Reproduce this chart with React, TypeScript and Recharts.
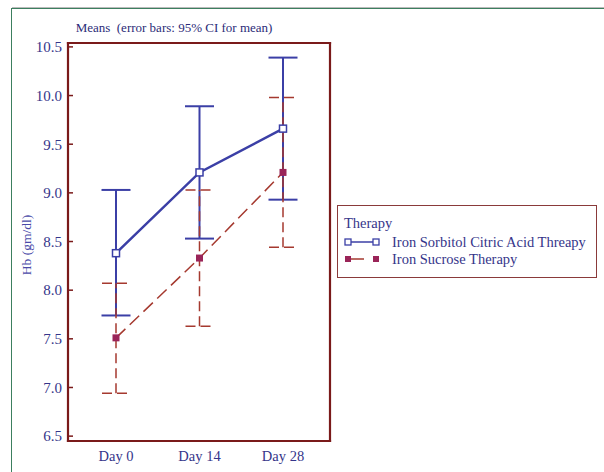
import React from 'react';
import { LineChart, Line, XAxis, YAxis, ErrorBar } from 'recharts';

const categories = ['Day 0', 'Day 14', 'Day 28'];
const sorbitolMean = [8.38, 9.21, 9.66];
const sorbitolLow = [7.74, 8.53, 8.93];
const sorbitolHigh = [9.03, 9.89, 10.39];
const sucroseMean = [7.51, 8.33, 9.21];
const sucroseLow = [6.94, 7.63, 8.44];
const sucroseHigh = [8.07, 9.03, 9.98];
const yTicks = [6.5, 7.0, 7.5, 8.0, 8.5, 9.0, 9.5, 10.0, 10.5];

const data = categories.map((c, i) => ({
  day: c,
  sorbitol: sorbitolMean[i],
  sorbitolErr: [sorbitolMean[i] - sorbitolLow[i], sorbitolHigh[i] - sorbitolMean[i]],
  sucrose: sucroseMean[i],
  sucroseErr: [sucroseMean[i] - sucroseLow[i], sucroseHigh[i] - sucroseMean[i]],
}));

const BLUE = '#3b3fa6';
const RED_BAR = '#a5392f';
const RED_MARK = '#9a2458';
const FRAME = '#7a1a1a';
const TEXT = '#35358a';
const FONT = '"Liberation Serif", "Times New Roman", serif';
const Y_DOMAIN: [number, number] = [6.45, 10.54];

const OpenSquare = (props: any) => {
  const { cx, cy } = props;
  if (cx == null || cy == null) return null;
  return <rect x={cx - 3.5} y={cy - 3.5} width={7} height={7} fill="#fff" stroke={BLUE} strokeWidth={1.5} />;
};
const FilledSquare = (props: any) => {
  const { cx, cy } = props;
  if (cx == null || cy == null) return null;
  return <rect x={cx - 3.5} y={cy - 3.5} width={7} height={7} fill={RED_MARK} stroke="none" />;
};

const frameLine = { stroke: FRAME, strokeWidth: 2.2, strokeLinecap: 'square' as const };

export default function App() {
  return (
    <div style={{ position: 'fixed', left: 0, top: 0, width: 604, height: 472, background: '#fff', fontFamily: FONT, overflow: 'hidden' }}>
      <div style={{ position: 'absolute', left: 12, top: 7, width: 700, height: 600, borderTop: '1px solid #bbb' }} />
      <div style={{ position: 'absolute', left: 11, top: 8, width: 700, height: 600, border: '1.5px solid #3c7f5f' }} />
      <div style={{ position: 'absolute', left: 0, top: 0 }}>
        <LineChart width={604} height={472} data={data} margin={{ top: 42, right: 273, bottom: 0, left: 0 }}>
          <XAxis
            dataKey="day"
            padding={{ left: 48, right: 47 }}
            axisLine={frameLine}
            tickLine={false}
            tickSize={0}
            tickMargin={10}
            height={31}
            tick={{ fill: TEXT, fontSize: 14.5, fontFamily: FONT }}
          />
          <XAxis
            xAxisId="top"
            orientation="top"
            dataKey="day"
            padding={{ left: 48, right: 47 }}
            height={1}
            axisLine={frameLine}
            tick={false}
            tickLine={false}
          />
          <YAxis
            domain={Y_DOMAIN}
            ticks={yTicks}
            tickFormatter={(v: number) => v.toFixed(1)}
            width={68}
            axisLine={frameLine}
            tickSize={-5}
            tickMargin={11}
            tickLine={{ stroke: FRAME, strokeWidth: 1.5 }}
            tick={{ fill: TEXT, fontSize: 15, fontFamily: FONT }}
            allowDataOverflow
          />
          <YAxis
            yAxisId="right"
            orientation="right"
            domain={Y_DOMAIN}
            allowDataOverflow
            width={1}
            axisLine={frameLine}
            tick={false}
            tickLine={false}
          />
          <Line
            xAxisId="top"
            yAxisId="right"
            dataKey="sorbitol"
            stroke="none"
            dot={false}
            activeDot={false}
            legendType="none"
            isAnimationActive={false}
          />
          <Line
            dataKey="sorbitol"
            stroke={BLUE}
            strokeWidth={2.5}
            dot={<OpenSquare />}
            isAnimationActive={false}
          >
            <ErrorBar dataKey="sorbitolErr" width={14.5} stroke={BLUE} strokeWidth={2} direction="y" />
          </Line>
          <Line
            dataKey="sucrose"
            stroke={RED_BAR}
            strokeWidth={1.5}
            strokeDasharray="13 6"
            dot={<FilledSquare />}
            isAnimationActive={false}
          >
            <ErrorBar dataKey="sucroseErr" width={14} stroke={RED_BAR} strokeWidth={1.5} strokeDasharray="10 5" direction="y" />
          </Line>
        </LineChart>
      </div>
      <div style={{ position: 'absolute', left: 62, top: 20, width: 224, textAlign: 'center', fontSize: 13, color: '#2b2b78', whiteSpace: 'nowrap', lineHeight: '16px' }}>
        Means&nbsp; (error bars: 95% CI for mean)
      </div>
      <div style={{ position: 'absolute', left: 27, top: 245, transform: 'translate(-50%, -50%) rotate(-90deg)', fontSize: 13.5, color: '#4a4aa8', whiteSpace: 'nowrap' }}>
        Hb (gm/dl)
      </div>
      <div style={{ position: 'absolute', left: 337, top: 205, width: 258, height: 71, border: '1.5px solid #8a3a3a', fontSize: 14.5, color: TEXT, lineHeight: '18px' }}>
        <div style={{ position: 'absolute', left: 6, top: 8 }}>Therapy</div>
        <div style={{ position: 'absolute', left: 6, top: 27, display: 'flex', alignItems: 'center', whiteSpace: 'nowrap' }}>
          <svg width={37} height={18}>
            <line x1={4} y1={9} x2={32} y2={9} stroke={BLUE} strokeWidth={1.5} />
            <rect x={1} y={6} width={6} height={6} fill="#fff" stroke={BLUE} strokeWidth={1.3} />
            <rect x={29} y={6} width={6} height={6} fill="#fff" stroke={BLUE} strokeWidth={1.3} />
          </svg>
          <span style={{ marginLeft: 11 }}>Iron Sorbitol Citric Acid Threapy</span>
        </div>
        <div style={{ position: 'absolute', left: 6, top: 44, display: 'flex', alignItems: 'center', whiteSpace: 'nowrap' }}>
          <svg width={37} height={18}>
            <line x1={4} y1={9} x2={20} y2={9} stroke={RED_BAR} strokeWidth={1.5} />
            <rect x={1} y={6} width={6} height={6} fill={RED_MARK} />
            <rect x={29} y={6} width={6} height={6} fill={RED_MARK} />
          </svg>
          <span style={{ marginLeft: 11 }}>Iron Sucrose Therapy</span>
        </div>
      </div>
    </div>
  );
}
